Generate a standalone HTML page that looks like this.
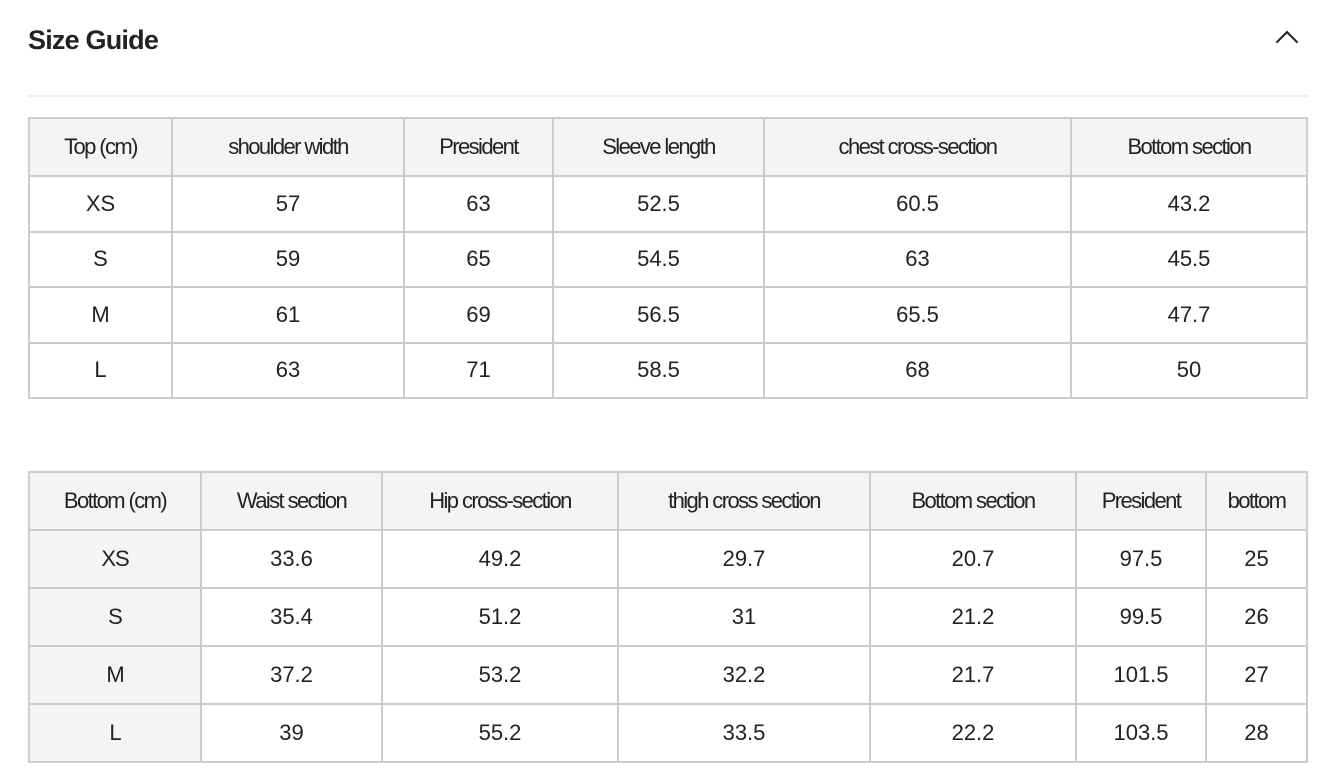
<!DOCTYPE html>
<html><head><style>
body{margin:0;background:#fff;font-family:"Liberation Sans",sans-serif;color:#222;}
h1{position:absolute;left:28px;top:25px;margin:0;font-size:27px;font-weight:bold;letter-spacing:-0.8px;}
.chev{position:absolute;left:1279px;top:34px;width:14px;height:14px;border-left:2.5px solid #222;border-top:2.5px solid #222;transform:rotate(45deg);}
.hr{position:absolute;left:28px;top:95px;width:1280px;height:2px;background:#eee;}
table{position:absolute;left:28px;border-collapse:collapse;table-layout:fixed;width:1278px;}
td{border:2px solid #ccc;text-align:center;font-size:22px;padding:0;color:#222;}
tr.h td{background:#f4f4f4;letter-spacing:-1.6px;font-size:22px;}
#t1{top:117px}
#t1 tr.h td{height:56px}
#t1 td{height:53.5px}
#t2{top:471px}
#t2 td{height:56px}
#t2 td.g{background:#f4f4f4;font-weight:500;letter-spacing:-1px}
</style></head><body>
<h1>Size Guide</h1><div class="chev"></div><div class="hr"></div>
<table id="t1">
<colgroup><col style="width:143px"><col style="width:232px"><col style="width:149px"><col style="width:211px"><col style="width:307px"><col style="width:236px"></colgroup>
<tr class="h"><td>Top (cm)</td><td>shoulder width</td><td>President</td><td>Sleeve length</td><td>chest cross-section</td><td>Bottom section</td></tr>
<tr><td>XS</td><td>57</td><td>63</td><td>52.5</td><td>60.5</td><td>43.2</td></tr>
<tr><td>S</td><td>59</td><td>65</td><td>54.5</td><td>63</td><td>45.5</td></tr>
<tr><td>M</td><td>61</td><td>69</td><td>56.5</td><td>65.5</td><td>47.7</td></tr>
<tr><td>L</td><td>63</td><td>71</td><td>58.5</td><td>68</td><td>50</td></tr>
</table>
<table id="t2">
<colgroup><col style="width:172px"><col style="width:181px"><col style="width:236px"><col style="width:252px"><col style="width:206px"><col style="width:130px"><col style="width:101px"></colgroup>
<tr class="h"><td>Bottom (cm)</td><td>Waist section</td><td>Hip cross-section</td><td>thigh cross section</td><td>Bottom section</td><td>President</td><td>bottom</td></tr>
<tr><td class="g">XS</td><td>33.6</td><td>49.2</td><td>29.7</td><td>20.7</td><td>97.5</td><td>25</td></tr>
<tr><td class="g">S</td><td>35.4</td><td>51.2</td><td>31</td><td>21.2</td><td>99.5</td><td>26</td></tr>
<tr><td class="g">M</td><td>37.2</td><td>53.2</td><td>32.2</td><td>21.7</td><td>101.5</td><td>27</td></tr>
<tr><td class="g">L</td><td>39</td><td>55.2</td><td>33.5</td><td>22.2</td><td>103.5</td><td>28</td></tr>
</table>
</body></html>
